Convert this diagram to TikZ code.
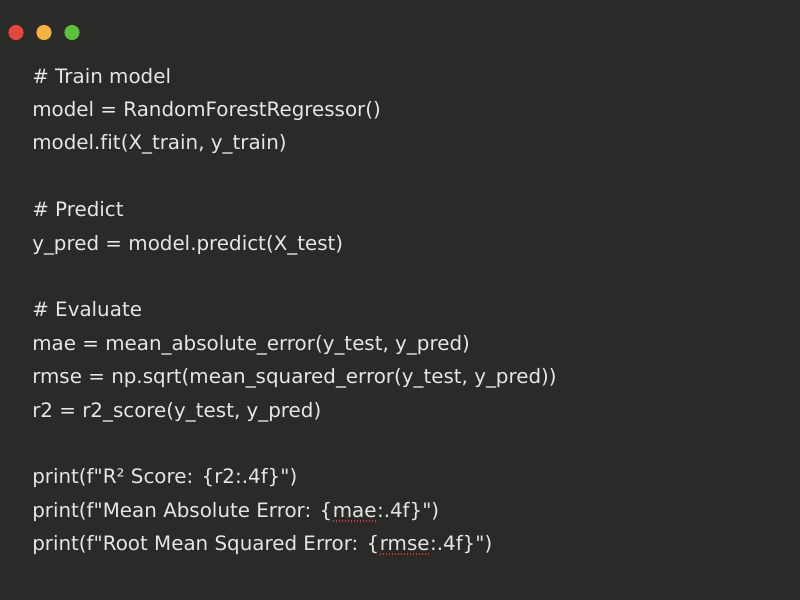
\documentclass[tikz,border=0pt]{standalone}
\usepackage{fontspec}
\newfontfamily\codefont{DejaVu Sans}[Ligatures=NoCommon]
\definecolor{bg}{HTML}{2A2A28}
\definecolor{ink}{HTML}{E6E6E4}
\definecolor{lred}{HTML}{E5473D}
\definecolor{lyellow}{HTML}{F4B33F}
\definecolor{lgreen}{HTML}{5AC23A}
\definecolor{spell}{HTML}{D63A2F}
\tikzset{
  code/.style={anchor=base west, inner sep=0pt, text=ink, font=\codefont\fontsize{14.9pt}{17pt}\selectfont},
  squig/.style={spell, line width=1.3pt, dash pattern=on 1.1pt off 1.15pt}
}
\begin{document}
\begin{tikzpicture}[x=0.75pt,y=-0.75pt]
    \fill[bg] (0,0) rectangle (800,600);
    \useasboundingbox (0,0) rectangle (800,600);
    \def\dots{lred/16,lyellow/44,lgreen/72}
    \foreach \c/\x [count=\i from 1] in \dots {\fill[\c] (\x,32.5) circle[radius=7.6] coordinate (d\i);}
    %  line number / text
    \foreach \k/\t in {0/{\# Train model}, 1/{model = RandomForestRegressor()}, 2/{model.fit(X\_train, y\_train)},
                       4/{\# Predict}, 5/{y\_pred = model.predict(X\_test)},
                       7/{\# Evaluate}, 8/{mae = mean\_absolute\_error(y\_test, y\_pred)},
                       9/{rmse = np.sqrt(mean\_squared\_error(y\_test, y\_pred))}, 10/{r2 = r2\_score(y\_test, y\_pred)},
                       12/{print(f"R² Score: \{r2:.4f\}")}}
      {\node[code] (l\k) at (32,{83+\k*33.4}) {\t};}
    \node[code] (l13) at (32,{83+13*33.4}) {print(f"Mean Absolute Error: \{};
    \node[code] (mae) at (l13.base east) {mae};
    \node[code] (l13b) at (mae.base east) {:.4f\}")};
    \node[code] (l14) at (32,{83+14*33.4}) {print(f"Root Mean Squared Error: \{};
    \node[code] (rmse) at (l14.base east) {rmse};
    \node[code] (l14b) at (rmse.base east) {:.4f\}")};
    \draw[squig] ([yshift=-2.8pt]mae.base west) -- ([yshift=-2.8pt]mae.base east);
    \draw[squig] ([yshift=-2.8pt]rmse.base west) -- ([yshift=-2.8pt]rmse.base east);
\end{tikzpicture}
\end{document}
